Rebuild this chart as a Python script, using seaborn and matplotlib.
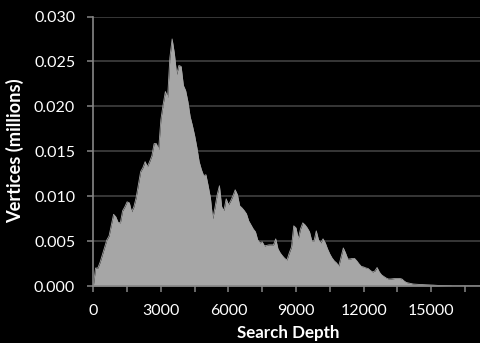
import numpy as np
import pandas as pd
import matplotlib
matplotlib.use("Agg")
import matplotlib.pyplot as plt
import seaborn as sns
from matplotlib.ticker import MultipleLocator, FuncFormatter

# Search depth sampled every 100 levels
depth_step = 100
vertices_millions = [
    0.0, 0.0020, 0.0020, 0.00264, 0.00346, 0.00430, 0.00513, 0.00558, 0.00681, 0.00798,
    0.00770, 0.00709, 0.00703, 0.00837, 0.00882, 0.00937, 0.00926, 0.00826, 0.00882, 0.00982,
    0.01127, 0.01272, 0.01317, 0.01384, 0.01328, 0.01384, 0.01451, 0.01585, 0.01585, 0.01518,
    0.01853, 0.02020, 0.02165, 0.02100, 0.02544, 0.02750, 0.02589, 0.02355, 0.02455, 0.02444,
    0.02232, 0.02176, 0.02053, 0.01886, 0.01786, 0.01674, 0.01540, 0.01384, 0.01295, 0.01228,
    0.01239, 0.01116, 0.00982, 0.00748, 0.00870, 0.01016, 0.01116, 0.00882, 0.00840, 0.00971,
    0.00904, 0.00949, 0.01004, 0.01071, 0.01016, 0.00893, 0.00870, 0.00840, 0.00804, 0.00725,
    0.00681, 0.00636, 0.00603, 0.00513, 0.00480, 0.00491, 0.00446, 0.00452, 0.00458, 0.00458,
    0.00458, 0.00525, 0.00413, 0.00368, 0.00335, 0.00307, 0.00290, 0.00368, 0.00435, 0.00670,
    0.00647, 0.00525, 0.00636, 0.00703, 0.00681, 0.00647, 0.00603, 0.00502, 0.00502, 0.00614,
    0.00513, 0.00480, 0.00525, 0.00480, 0.00413, 0.00357, 0.00312, 0.00279, 0.00257, 0.00223,
    0.00324, 0.00424, 0.00368, 0.00301, 0.00301, 0.00307, 0.00307, 0.00279, 0.00246, 0.00218,
    0.00212, 0.00201, 0.00195, 0.00173, 0.00156, 0.00167, 0.00206, 0.00156, 0.00123, 0.00106,
    0.00089, 0.00078, 0.00078, 0.00081, 0.00084, 0.00084, 0.00084, 0.00078, 0.00056, 0.00039,
    0.00033, 0.00028, 0.00022, 0.00020, 0.00019, 0.00017, 0.00016, 0.00015, 0.00013, 0.00012,
    0.00011, 0.00010, 0.00008, 0.00006, 0.00004, 0.00003, 0.00002, 0.00001, 0.00001, 0.0,
]
search_depth = [i * depth_step for i in range(len(vertices_millions))]

x_label = "Search Depth"
y_label = "Vertices (millions)"
y_ticks = [0.000, 0.005, 0.010, 0.015, 0.020, 0.025, 0.030]

df = pd.DataFrame({"depth": search_depth, "vertices": vertices_millions})

sns.set_theme(style="dark")
plt.rcParams["font.family"] = ["Lato", "DejaVu Sans"]

area_color = "#a6a6a6"
grid_color = "#404040"
axis_color = "#868686"
text_color = "#ffffff"

fig = plt.figure(figsize=(4.81, 3.43), dpi=100, facecolor="black")
ax = fig.add_axes([93.3 / 481, 1 - 286 / 343, 1 - 93.3 / 481, (286 - 16.5) / 343])
ax.set_facecolor("black")

ax.fill_between(df["depth"], df["vertices"], 0, color=area_color, linewidth=0, zorder=2)
sns.lineplot(data=df, x="depth", y="vertices", ax=ax, color=area_color, linewidth=0.6, zorder=2)

ax.set_xlim(0, 17214)
ax.set_ylim(0, 0.030)
ax.set_yticks(y_ticks)
ax.yaxis.set_major_formatter(FuncFormatter(lambda v, p: f"{v:.3f}"))
ax.xaxis.set_major_locator(MultipleLocator(1500))
ax.xaxis.set_major_formatter(FuncFormatter(lambda v, p: f"{int(round(v))}" if int(round(v)) % 3000 == 0 else ""))

ax.grid(False)
ax.yaxis.grid(True, color=grid_color, linewidth=1.2, zorder=0)
ax.set_axisbelow(True)

for side in ["top", "right"]:
    ax.spines[side].set_visible(False)
for side in ["left", "bottom"]:
    ax.spines[side].set_visible(True)
    ax.spines[side].set_color(axis_color)
    ax.spines[side].set_linewidth(1.2)
    ax.spines[side].set_zorder(3)

ax.tick_params(axis="both", which="major", direction="out", length=4, width=1.1,
               color=axis_color, labelcolor=text_color, labelsize=11.5, pad=9,
               bottom=True, left=True)

ax.set_xlabel(x_label, color=text_color, fontsize=12.3, fontweight="bold")
ax.set_ylabel(y_label, color=text_color, fontsize=12.3, fontweight="bold")
ax.xaxis.label.set_verticalalignment("center")
ax.yaxis.label.set_verticalalignment("center")
ax.xaxis.set_label_coords((288 - 93.3) / (481 - 93.3), (286 - 333) / 269.5)
ax.yaxis.set_label_coords((15 - 93.3) / (481 - 93.3), (286 - 151) / 269.5)

# fit text sizes to the pixel extents measured on the reference
for _ in range(2):
    fig.canvas.draw()
    r = fig.canvas.get_renderer()
    xl = ax.xaxis.label
    yl = ax.yaxis.label
    xl.set_fontsize(xl.get_fontsize() * 103.0 / xl.get_window_extent(r).width)
    yl.set_fontsize(yl.get_fontsize() * 145.0 / yl.get_window_extent(r).height)
    top_lab = [t for t in ax.get_yticklabels() if t.get_text() == "0.030"]
    if top_lab:
        w = top_lab[0].get_window_extent(r).width
        ax.tick_params(axis="both", labelsize=top_lab[0].get_fontsize() * 41.0 / w)

fig.savefig("out.png", dpi=100, facecolor="black")
